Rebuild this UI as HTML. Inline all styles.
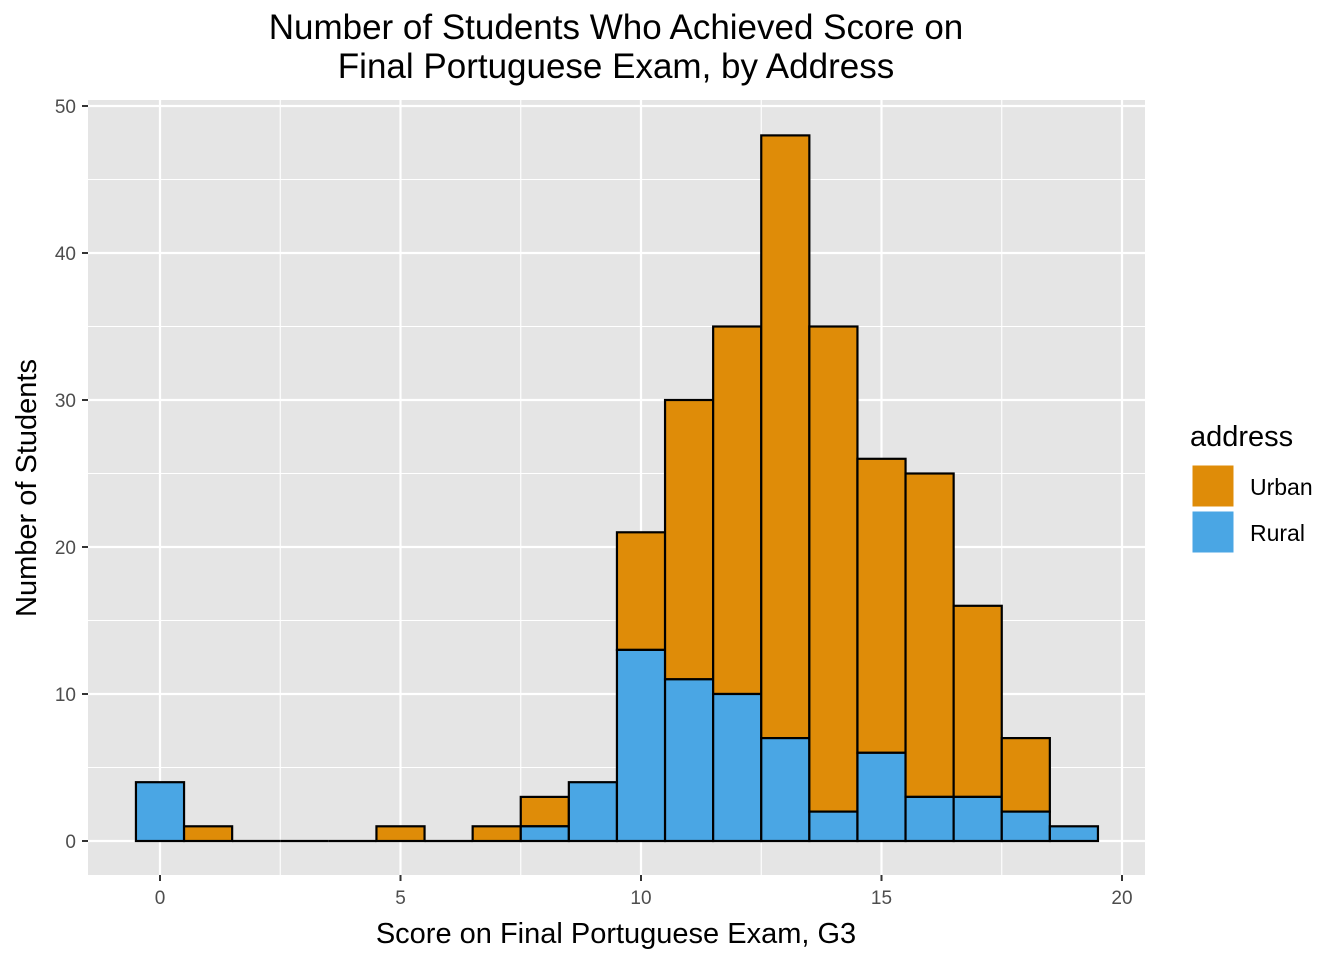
<!DOCTYPE html>
<html><head><meta charset="utf-8"><style>
body{margin:0;background:#fff;font-family:"Liberation Sans",sans-serif;}
</style></head><body>
<svg id="chart" width="1344" height="960" xmlns="http://www.w3.org/2000/svg">
<text x="616" y="39" text-anchor="middle" font-size="35" fill="#000">Number of Students Who Achieved Score on</text>
<text x="616" y="78" text-anchor="middle" font-size="35" fill="#000">Final Portuguese Exam, by Address</text>
<rect x="88" y="100" width="1057" height="775" fill="#e5e5e5"/>
<g id="grid"></g>
<g id="bars"></g>
<g id="axes"></g>
<text x="616" y="943" text-anchor="middle" font-size="29">Score on Final Portuguese Exam, G3</text>
<text transform="translate(36,488) rotate(-90)" text-anchor="middle" font-size="29">Number of Students</text>
<g>
<text x="1190" y="446" font-size="29">address</text>
<rect x="1192" y="465" width="42" height="42" fill="#df8c08" stroke="#fff"/>
<text x="1250" y="495" font-size="23">Urban</text>
<rect x="1192" y="511" width="42" height="42" fill="#4aa6e4" stroke="#fff"/>
<text x="1250" y="541" font-size="23">Rural</text>
</g>
</svg>
<script>
const scores=[0,1,2,3,4,5,6,7,8,9,10,11,12,13,14,15,16,17,18,19];
const totalCounts=[4,1,0,0,0,1,0,1,3,4,21,30,35,48,35,26,25,16,7,1];
const ruralCounts=[4,0,0,0,0,0,0,0,1,4,13,11,10,7,2,6,3,3,2,1];
const xTicks=[0,5,10,15,20];
const yTicks=[0,10,20,30,40,50];
const NS="http://www.w3.org/2000/svg";
const X=v=>160+(v)*48.1;
const Y=v=>841-v*14.7;
function mk(tag,attrs,parent){const e=document.createElementNS(NS,tag);for(const k in attrs)e.setAttribute(k,attrs[k]);parent.appendChild(e);return e;}
const grid=document.getElementById('grid'),bars=document.getElementById('bars'),axes=document.getElementById('axes');
for(let i=0;i<xTicks.length-1;i++){const m=(xTicks[i]+xTicks[i+1])/2;const l=mk('line',{x1:X(m),x2:X(m),y1:100,y2:875,stroke:'#fff','stroke-width':1.1},grid);

}
for(let i=0;i<yTicks.length-1;i++){const m=(yTicks[i]+yTicks[i+1])/2;const l=mk('line',{x1:88,x2:1145,y1:Y(m),y2:Y(m),stroke:'#fff','stroke-width':1.1},grid);

}
xTicks.forEach(t=>{const l=mk('line',{x1:X(t),x2:X(t),y1:100,y2:875,stroke:'#fff','stroke-width':2.2},grid);


const k=mk('line',{x1:X(t),x2:X(t),y1:875,y2:881,stroke:'#333','stroke-width':2},axes);


const tx=mk('text',{x:X(t),y:904,'text-anchor':'middle','font-size':19,fill:'#4d4d4d'},axes);tx.textContent=t;

});
yTicks.forEach(t=>{const l=mk('line',{x1:88,x2:1145,y1:Y(t),y2:Y(t),stroke:'#fff','stroke-width':2.2},grid);


const k=mk('line',{x1:82,x2:88,y1:Y(t),y2:Y(t),stroke:'#333','stroke-width':2},axes);


const tx=mk('text',{x:76,y:Y(t)+7,'text-anchor':'end','font-size':19,fill:'#4d4d4d'},axes);tx.textContent=t;

});
scores.forEach((s,i)=>{const x0=X(s-0.5),w=X(s+0.5)-x0;const r=ruralCounts[i],t=totalCounts[i];
if(t===0){const z=mk('line',{x1:x0,x2:x0+w,y1:Y(0),y2:Y(0),stroke:'#000','stroke-width':2.2},bars);

return;}
const u=mk('rect',{x:x0,y:Y(t),width:w,height:Y(r)-Y(t),fill:'#df8c08',stroke:'#000','stroke-width':2.2},bars);


if(r>0){const b=mk('rect',{x:x0,y:Y(r),width:w,height:Y(0)-Y(r),fill:'#4aa6e4',stroke:'#000','stroke-width':2.2},bars);

}});
</script>
</body></html>
